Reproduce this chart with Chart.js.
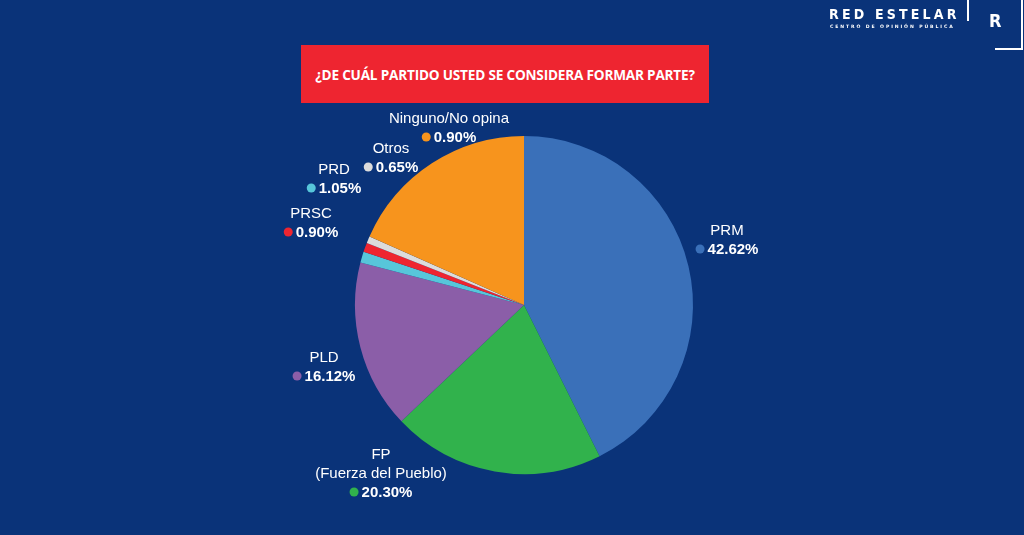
<!DOCTYPE html>
<html>
<head>
<meta charset="utf-8">
<script src="https://cdn.jsdelivr.net/npm/chart.js@4/dist/chart.umd.min.js"></script>
<style>
  html, body { margin: 0; padding: 0; background: #0a3379; }
  #wrap { position: relative; width: 1024px; height: 535px; overflow: hidden; font-family: "Liberation Sans", Arial, sans-serif; }
  #myChart { position: absolute; left: 0; top: 0; }
  .title {
    position: absolute; left: 301px; top: 45px; width: 408px; height: 58px;
    background: #ee2530; color: #fff; font-family: "Open Sans", sans-serif; font-weight: 700;
    font-size: 13.6px; display: flex; align-items: center; justify-content: center; letter-spacing: -0.2px;
  }
  .brand { position: absolute; left: 829px; top: 6px; color: #fff; font-family: "DejaVu Sans Condensed", "DejaVu Sans", sans-serif; font-weight: 700; font-size: 14px; letter-spacing: 3.2px; }
  .sub { position: absolute; left: 830px; top: 24px; color: #fff; font-family: "DejaVu Sans", sans-serif; font-size: 4.6px; font-weight: 700; letter-spacing: 1.9px; }
  .vl1 { position: absolute; left: 967px; top: 0; width: 2px; height: 21px; background: #fff; }
  .logoR { position: absolute; left: 989px; top: 10px; color: #fff; font-family: "DejaVu Sans Condensed", sans-serif; font-weight: 700; font-size: 18px; }
  .vl2 { position: absolute; left: 1021px; top: 0; width: 2px; height: 50px; background: #fff; }
  .hl { position: absolute; left: 995px; top: 48px; width: 28px; height: 2px; background: #fff; }
</style>
</head>
<body>
<div id="wrap">
  <canvas id="myChart" width="1024" height="535"></canvas>
  <div class="title">¿DE CUÁL PARTIDO USTED SE CONSIDERA FORMAR PARTE?</div>
  <div class="brand">RED ESTELAR</div>
  <div class="sub">CENTRO DE OPINIÓN PÚBLICA</div>
  <div class="vl1"></div>
  <div class="logoR">R</div>
  <div class="vl2"></div>
  <div class="hl"></div>
</div>
<script>
// datos (sentido horario desde arriba)
var partidos = ['PRM', 'FP', 'PLD', 'PRD', 'PRSC', 'Otros', 'Ninguno/No opina'];
var porcentajes = [42.62, 20.30, 16.12, 1.05, 0.90, 0.65, 18.36];
// texto tal como aparece en la imagen (Ninguno dice 0.90%)
var etiquetas = ['42.62%', '20.30%', '16.12%', '1.05%', '0.90%', '0.65%', '0.90%'];
var colores = ['#3a70b9', '#31b24c', '#8b5ea8', '#57c6da', '#ee2530', '#dcdcdc', '#f7941d'];

// nombres de las etiquetas, con varias lineas si hace falta
var nombres = [['PRM'], ['FP', '(Fuerza del Pueblo)'], ['PLD'], ['PRD'], ['PRSC'], ['Otros'], ['Ninguno/No opina']];
// posicion de cada etiqueta respecto al centro del pastel (dx, dy de la primera linea)
var posEtiquetas = [[203, -74], [-143, 150], [-200, 53], [-190, -135], [-213, -91], [-133, -156], [-75, -186]];

var etiquetasPlugin = {
  id: 'etiquetas',
  afterDraw: function(chart) {
    var c = chart.ctx;
    var arc = chart.getDatasetMeta(0).data[0];
    var cx = arc.x, cy = arc.y;
    c.save();
    c.fillStyle = '#fff';
    c.textBaseline = 'middle';
    for (var i = 0; i < nombres.length; i++) {
      var x = cx + posEtiquetas[i][0];
      var y = cy + posEtiquetas[i][1];
      c.font = '15px "Liberation Sans", Arial, sans-serif';
      c.textAlign = 'center';
      for (var j = 0; j < nombres[i].length; j++) {
        c.fillText(nombres[i][j], x, y + j * 19);
      }
      var vy = y + (nombres[i].length - 1) * 19 + 18;
      c.font = 'bold 15px "Liberation Sans", Arial, sans-serif';
      var w = c.measureText(etiquetas[i]).width;
      var total = 10 + 2 + w;
      var x0 = x - total / 2;
      c.beginPath();
      c.fillStyle = colores[i];
      c.arc(x0 + 4.5, vy, 4.5, 0, Math.PI * 2);
      c.fill();
      c.fillStyle = '#fff';
      c.textAlign = 'left';
      c.fillText(etiquetas[i], x0 + 12, vy + 1);
    }
    c.restore();
  }
};

var ctx = document.getElementById('myChart');
var myChart = new Chart(ctx, {
  type: 'pie',
  data: {
    labels: partidos,
    datasets: [{
      data: porcentajes,
      backgroundColor: colores,
      borderWidth: 0
    }]
  },
  options: {
    responsive: false,
    animation: false,
    layout: { padding: { top: 136, bottom: 61, left: 200, right: 176 } },
    plugins: {
      legend: { display: false },
      tooltip: { enabled: false }
    }
  },
  plugins: [etiquetasPlugin]
});
</script>
</body>
</html>
